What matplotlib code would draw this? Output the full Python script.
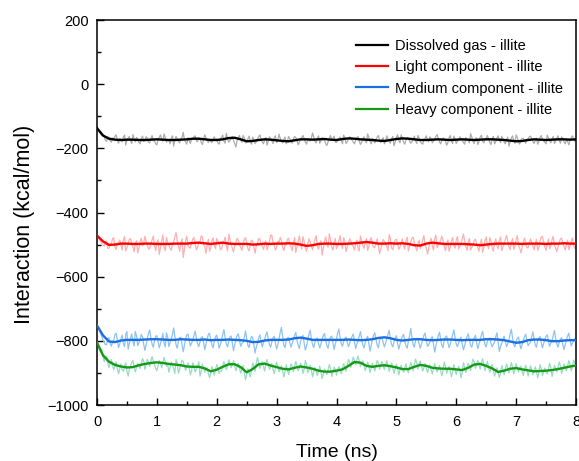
import numpy as np
import matplotlib
matplotlib.use("Agg")
import matplotlib.pyplot as plt
from matplotlib.ticker import MultipleLocator

plt.rcParams['font.family'] = ['Liberation Sans', 'DejaVu Sans']

labels = ["Dissolved gas - illite", "Light component - illite",
          "Medium component - illite", "Heavy component - illite"]

# raw samples every 0.02 ns (0..8 ns)
gas_raw = [
-135,-141,-149,-153,-160,-158,-163,-175,-178,-164,-166,-177,-181,-168,-170,-162,-158,-176,-184,-169,
-172,-180,-165,-159,-190,-174,-169,-163,-176,-185,-157,-171,-180,-166,-171,-182,-186,-170,-162,-179,
-175,-164,-168,-181,-183,-169,-160,-176,-177,-186,-189,-172,-166,-158,-172,-178,-155,-167,-181,-173,
-174,-186,-169,-161,-193,-175,-163,-170,-178,-183,-171,-166,-150,-174,-180,-187,-167,-176,-185,-170,
-173,-164,-161,-177,-179,-168,-170,-181,-188,-173,-158,-167,-176,-182,-172,-179,-182,-170,-164,-175,
-171,-183,-187,-169,-166,-159,-178,-184,-153,-170,-181,-176,-169,-163,-175,-185,-196,-176,-167,-160,
-174,-181,-160,-168,-183,-176,-171,-162,-178,-187,-165,-173,-185,-179,-170,-164,-158,-172,-180,-186,
-173,-166,-190,-178,-164,-171,-177,-185,-168,-161,-182,-175,-156,-169,-176,-183,-172,-165,-186,-177,
-163,-170,-179,-184,-171,-163,-167,-175,-189,-180,-174,-166,-160,-171,-181,-187,-170,-176,-177,-168,
-152,-165,-178,-183,-169,-161,-184,-177,-166,-172,-175,-186,-191,-179,-168,-160,-173,-169,-162,-181,
-182,-174,-170,-165,-176,-186,-159,-167,-185,-179,-172,-164,-167,-175,-180,-186,-174,-168,-163,-177,
-188,-181,-171,-164,-177,-183,-155,-166,-179,-186,-169,-175,-183,-171,-165,-160,-176,-182,-172,-167,
-186,-178,-161,-170,-178,-184,-170,-163,-192,-181,-166,-158,-175,-183,-158,-169,-181,-187,-173,-166,
-168,-177,-184,-179,-171,-162,-176,-185,-160,-168,-179,-184,-187,-173,-169,-161,-174,-180,-164,-170,
-183,-176,-172,-163,-157,-170,-180,-186,-175,-168,-169,-178,-190,-182,-167,-160,-178,-185,-162,-171,
-185,-177,-173,-164,-170,-176,-181,-187,-166,-172,-176,-183,-154,-165,-179,-185,-171,-167,-188,-180,
-165,-159,-177,-183,-173,-169,-160,-171,-182,-188,-170,-163,-186,-179,-168,-161,-175,-182,-163,-170,
-180,-186,-172,-165,-193,-180,-167,-161,-176,-184,-158,-166,-181,-187,-174,-169,-169,-177,-184,-172,
-171,-164,-162,-170,-178,-185,-175,-168,-187,-179,-166,-160,-173,-178,-181,-186,-159,-168,-177,-183,
-170,-163,-185,-178,-168,-161,-176,-184,-164,-170,-180,-186,-172,-179,-189,-175,-167,-161,-174,-178,
-171]

light_raw = [
-470,-476,-483,-490,-497,-502,-505,-494,-488,-512,-511,-498,-496,-481,-479,-508,-515,-497,-493,-486,
-502,-517,-486,-475,-520,-509,-498,-484,-481,-499,-507,-523,-495,-488,-526,-511,-490,-480,-504,-497,
-474,-491,-499,-514,-512,-496,-485,-474,-503,-519,-496,-485,-531,-510,-489,-470,-508,-520,-477,-494,
-500,-512,-518,-499,-493,-476,-462,-488,-505,-521,-497,-482,-540,-515,-487,-474,-502,-509,-511,-493,
-483,-478,-498,-516,-509,-494,-492,-473,-476,-499,-506,-527,-499,-484,-521,-510,-488,-479,-503,-512,
-481,-490,-497,-516,-514,-500,-490,-477,-505,-520,-468,-484,-500,-511,-523,-505,-494,-480,-486,-501,
-509,-518,-497,-485,-478,-493,-512,-520,-501,-486,-489,-508,-527,-503,-496,-481,-483,-499,-506,-515,
-499,-488,-517,-504,-491,-470,-471,-495,-503,-517,-510,-489,-494,-478,-486,-508,-519,-503,-500,-484,
-480,-498,-507,-519,-496,-478,-525,-507,-489,-473,-502,-514,-475,-490,-511,-521,-498,-482,-492,-506,
-516,-499,-484,-472,-504,-515,-497,-488,-533,-511,-490,-476,-500,-508,-466,-485,-508,-517,-495,-481,
-513,-504,-487,-472,-501,-512,-479,-490,-522,-507,-496,-482,-489,-501,-506,-517,-498,-486,-512,-520,
-473,-489,-503,-512,-494,-481,-518,-507,-486,-478,-500,-509,-509,-495,-482,-505,-528,-514,-497,-484,
-491,-500,-505,-519,-469,-481,-511,-516,-499,-485,-484,-497,-515,-508,-496,-483,-502,-514,-488,-477,
-520,-508,-493,-480,-477,-494,-507,-520,-498,-486,-513,-501,-485,-472,-500,-511,-530,-513,-492,-480,
-504,-517,-481,-470,-510,-502,-495,-486,-474,-489,-506,-519,-499,-485,-521,-509,-489,-478,-503,-511,
-486,-475,-514,-506,-497,-482,-467,-488,-505,-518,-492,-481,-517,-509,-500,-487,-483,-497,-509,-521,
-496,-483,-524,-510,-488,-476,-501,-513,-478,-490,-512,-521,-494,-482,-505,-513,-487,-476,-519,-506,
-498,-485,-471,-489,-507,-516,-493,-481,-515,-505,-485,-472,-502,-511,-526,-508,-491,-480,-499,-510,
-510,-497,-482,-493,-504,-516,-496,-484,-518,-509,-489,-476,-475,-492,-508,-518,-497,-483,-513,-504,
-486,-474,-501,-512,-522,-507,-494,-481,-480,-496,-506,-517,-499,-486,-516,-505,-490,-479,-503,-512,
-495]

medium_raw = [
-750,-758,-768,-777,-786,-797,-805,-812,-812,-794,-790,-806,-817,-803,-798,-781,-776,-799,-821,-810,
-795,-782,-809,-818,-780,-771,-826,-808,-792,-779,-803,-816,-771,-784,-815,-806,-797,-780,-788,-811,
-830,-812,-794,-776,-766,-792,-811,-820,-799,-786,-784,-803,-822,-809,-793,-777,-807,-819,-775,-788,
-818,-806,-796,-779,-760,-787,-812,-823,-801,-790,-789,-811,-834,-815,-795,-781,-779,-799,-816,-807,
-798,-783,-770,-791,-809,-818,-803,-790,-787,-805,-828,-810,-794,-780,-776,-797,-813,-822,-800,-788,
-782,-803,-823,-811,-797,-780,-765,-789,-810,-819,-802,-788,-785,-806,-831,-812,-796,-783,-778,-798,
-817,-808,-805,-790,-769,-793,-814,-821,-799,-786,-790,-812,-838,-819,-808,-792,-781,-802,-819,-806,
-797,-781,-772,-794,-811,-820,-803,-791,-786,-807,-825,-812,-794,-774,-758,-785,-813,-821,-800,-791,
-789,-806,-820,-808,-796,-783,-774,-797,-815,-824,-801,-789,-783,-808,-829,-815,-798,-780,-767,-792,
-812,-821,-804,-795,-791,-809,-822,-810,-795,-783,-777,-799,-816,-823,-799,-789,-785,-806,-827,-811,
-793,-776,-763,-789,-809,-817,-802,-792,-788,-805,-818,-808,-797,-786,-779,-802,-824,-811,-800,-785,
-771,-795,-813,-822,-805,-793,-786,-810,-832,-814,-795,-782,-775,-796,-814,-822,-798,-791,-790,-806,
-819,-807,-794,-779,-768,-792,-811,-819,-803,-791,-784,-807,-826,-811,-797,-786,-780,-801,-816,-823,
-801,-785,-761,-790,-812,-820,-799,-793,-792,-810,-823,-809,-796,-783,-776,-799,-817,-812,-804,-792,
-787,-812,-835,-816,-800,-784,-773,-796,-815,-821,-798,-788,-785,-805,-821,-810,-795,-779,-766,-790,
-810,-818,-806,-795,-789,-810,-828,-815,-799,-787,-778,-797,-814,-820,-802,-791,-783,-806,-824,-811,
-797,-782,-770,-793,-812,-819,-800,-794,-791,-808,-819,-811,-803,-788,-775,-806,-833,-818,-808,-795,
-786,-803,-818,-809,-797,-779,-764,-790,-811,-819,-801,-792,-788,-809,-825,-812,-798,-787,-779,-799,
-815,-809,-804,-788,-772,-795,-813,-820,-799,-791,-787,-806,-822,-808,-796,-786,-781,-800,-817,-806,
-802,-783,-768,-792,-810,-820,-805,-795,-790,-812,-827,-812,-797,-785,-776,-798,-816,-807,-800,-793,
-798]

heavy_raw = [
-800,-818,-830,-835,-826,-850,-865,-852,-848,-871,-884,-868,-858,-877,-890,-879,-866,-888,-903,-886,
-872,-891,-895,-880,-868,-893,-910,-889,-879,-867,-861,-882,-897,-883,-870,-879,-886,-870,-855,-864,
-889,-875,-858,-866,-880,-862,-849,-861,-872,-886,-893,-877,-861,-870,-884,-867,-852,-866,-879,-871,
-898,-884,-866,-874,-887,-902,-858,-869,-901,-889,-873,-861,-864,-880,-892,-877,-869,-884,-906,-893,
-868,-881,-897,-890,-879,-865,-910,-896,-872,-884,-898,-887,-884,-903,-915,-900,-880,-894,-907,-889,
-874,-886,-902,-893,-895,-877,-865,-874,-890,-879,-859,-868,-884,-875,-862,-878,-893,-881,-870,-884,
-901,-889,-876,-898,-921,-905,-887,-899,-912,-893,-869,-880,-895,-870,-852,-866,-886,-877,-865,-881,
-894,-872,-858,-875,-889,-880,-871,-889,-902,-884,-866,-882,-897,-886,-878,-893,-913,-896,-874,-889,
-905,-888,-872,-879,-896,-881,-864,-877,-893,-885,-870,-882,-902,-888,-861,-874,-899,-893,-876,-890,
-912,-897,-883,-894,-908,-893,-879,-896,-918,-903,-888,-897,-905,-889,-874,-887,-911,-898,-882,-890,
-907,-891,-880,-894,-902,-885,-871,-880,-895,-876,-858,-866,-883,-865,-851,-861,-875,-859,-848,-863,
-880,-871,-862,-877,-893,-881,-866,-879,-899,-885,-870,-882,-894,-876,-861,-870,-889,-875,-864,-877,
-890,-874,-862,-879,-895,-882,-869,-885,-901,-888,-873,-886,-906,-891,-876,-888,-898,-884,-872,-889,
-900,-884,-868,-877,-893,-874,-857,-868,-888,-872,-863,-880,-894,-883,-870,-886,-899,-887,-875,-890,
-903,-887,-871,-885,-897,-889,-877,-893,-909,-892,-866,-881,-901,-888,-880,-896,-912,-895,-874,-889,
-905,-892,-879,-893,-915,-898,-868,-884,-899,-880,-870,-878,-893,-872,-857,-866,-886,-873,-861,-870,
-889,-870,-856,-874,-893,-879,-864,-884,-898,-886,-873,-893,-910,-897,-884,-900,-914,-898,-877,-890,
-906,-888,-872,-883,-900,-884,-868,-882,-903,-890,-871,-886,-897,-884,-879,-895,-908,-891,-876,-890,
-910,-895,-878,-890,-906,-893,-881,-897,-915,-899,-874,-887,-909,-896,-885,-899,-903,-889,-870,-883,
-911,-894,-877,-886,-897,-881,-866,-879,-902,-887,-872,-884,-893,-877,-862,-874,-894,-880,-860,-869,
-875]

# smoothed curves every 0.1 ns
gas_smooth = [
-137,-160,-170,-173,-174,-173,-173,-174,-174,-173,-172,-173,-174,-174,-173,-172,-170,-170,-172,-174,
-174,-172,-168,-167,-172,-178,-177,-174,-172,-173,-175,-177,-178,-175,-172,-172,-173,-172,-171,-173,
-174,-171,-169,-170,-172,-173,-174,-176,-177,-174,-171,-169,-170,-172,-174,-174,-173,-172,-173,-174,
-173,-172,-173,-174,-173,-172,-172,-173,-174,-176,-178,-177,-174,-172,-173,-174,-173,-172,-172,-173,
-172]

light_smooth = [
-472,-490,-501,-500,-497,-497,-498,-498,-497,-497,-498,-498,-498,-497,-497,-497,-495,-494,-496,-498,
-496,-494,-497,-498,-498,-498,-500,-499,-497,-498,-497,-497,-496,-497,-500,-504,-502,-498,-497,-497,
-498,-498,-497,-496,-494,-492,-494,-497,-497,-496,-497,-496,-498,-502,-503,-497,-494,-496,-498,-498,
-498,-498,-499,-500,-502,-500,-498,-497,-497,-497,-497,-498,-497,-497,-497,-498,-497,-497,-496,-497,
-497]

medium_smooth = [
-752,-783,-802,-804,-799,-797,-797,-797,-796,-795,-795,-796,-797,-797,-795,-796,-797,-797,-796,-798,
-797,-797,-796,-797,-798,-800,-804,-803,-799,-797,-797,-797,-796,-792,-790,-793,-797,-797,-797,-797,
-797,-797,-796,-797,-798,-797,-795,-791,-789,-792,-797,-799,-797,-795,-795,-797,-798,-797,-796,-796,
-797,-798,-797,-797,-797,-795,-795,-796,-798,-802,-806,-804,-798,-796,-796,-798,-801,-801,-799,-798,
-798]

heavy_smooth = [
-805,-845,-865,-875,-880,-883,-882,-876,-872,-869,-867,-869,-872,-874,-876,-880,-881,-881,-886,-895,
-890,-881,-873,-873,-882,-898,-888,-873,-871,-877,-882,-887,-889,-884,-880,-883,-887,-893,-896,-896,
-893,-889,-878,-866,-868,-878,-881,-878,-876,-879,-883,-888,-888,-881,-875,-878,-884,-886,-887,-887,
-889,-891,-884,-874,-872,-878,-886,-897,-893,-887,-885,-889,-892,-895,-894,-893,-891,-888,-884,-880,
-877]

raw_series = [gas_raw, light_raw, medium_raw, heavy_raw]
smooth_series = [gas_smooth, light_smooth, medium_smooth, heavy_smooth]
raw_colors = ['#adadad', '#ffb0b0', '#8ec3f2', '#98dcc2']
line_colors = ['#000000', '#ff0000', '#1a6fe0', '#159a15']

fig = plt.figure(figsize=(5.79, 4.61), dpi=100)
ax = fig.add_axes([97/579, 1-405/461, (576-97)/579, 385/461])

handles = []
for raw, sm, rc, lc, lab in zip(raw_series, smooth_series, raw_colors, line_colors, labels):
    t_raw = np.linspace(0, 8, len(raw))
    t_sm = np.linspace(0, 8, len(sm))
    ax.plot(t_raw, raw, color=rc, lw=0.9, zorder=2)
    h, = ax.plot(t_sm, sm, color=lc, lw=1.7, zorder=3, label=lab)
    handles.append(h)

ax.set_xlim(0, 8)
ax.set_ylim(-1000, 200)
ax.xaxis.set_major_locator(MultipleLocator(1))
ax.xaxis.set_minor_locator(MultipleLocator(0.5))
ax.yaxis.set_major_locator(MultipleLocator(200))
ax.yaxis.set_minor_locator(MultipleLocator(100))
ax.tick_params(which='both', direction='in', top=False, right=False, labelsize=10.5, width=1.0)
ax.tick_params(which='major', length=5)
ax.tick_params(which='minor', length=3)
ax.tick_params(axis='x', pad=7)
ax.tick_params(axis='y', pad=6)
for s in ax.spines.values():
    s.set_linewidth(1.1)

ax.set_xlabel('Time (ns)', fontsize=14, labelpad=11)
ax.set_ylabel('Interaction (kcal/mol)', fontsize=15.5)
ax.yaxis.set_label_coords(-0.13, 0.47)

leg = ax.legend(handles=handles, loc='upper left', bbox_to_anchor=(356/579, 1-39/461),
                bbox_transform=fig.transFigure, frameon=False, fontsize=10.5,
                handlelength=2.2, handletextpad=0.5, labelspacing=0.5,
                borderpad=0, borderaxespad=0)
for l in leg.get_lines():
    l.set_linewidth(1.6)

fig.savefig('out.png', dpi=100)
